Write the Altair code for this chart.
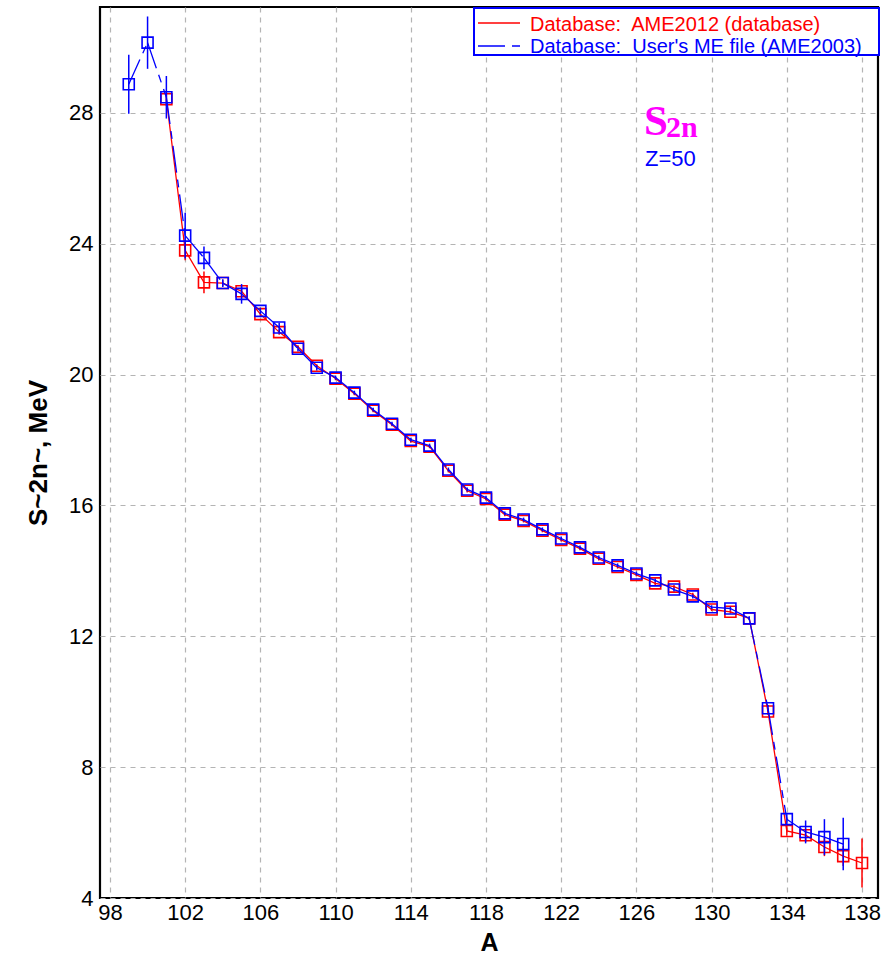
import altair as alt
import pandas as pd

# Two-neutron separation energies for tin (Z = 50), two mass evaluations
A_user = [99, 100, 101, 102, 103, 104, 105, 106, 107, 108, 109, 110, 111, 112,
          113, 114, 115, 116, 117, 118, 119, 120, 121, 122, 123, 124, 125, 126,
          127, 128, 129, 130, 131, 132, 133, 134, 135, 136, 137]
S_user = [28.88, 30.15, 28.48, 24.25, 23.57, 22.80, 22.47, 21.95, 21.44, 20.79,
          20.21, 19.91, 19.45, 18.93, 18.50, 18.01, 17.83, 17.10, 16.49, 16.24,
          15.76, 15.57, 15.27, 14.99, 14.72, 14.41, 14.17, 13.92, 13.71, 13.43,
          13.22, 12.89, 12.85, 12.55, 9.80, 6.41, 6.02, 5.86, 5.65]
E_user = [0.90, 0.80, 0.65, 0.70, 0.35, 0.12, 0.30, 0.10, 0.15, 0.08,
          0.08, 0.06, 0.06, 0.06, 0.06, 0.06, 0.06, 0.06, 0.06, 0.06,
          0.06, 0.06, 0.06, 0.06, 0.06, 0.06, 0.06, 0.06, 0.06, 0.06,
          0.06, 0.06, 0.06, 0.06, 0.10, 0.15, 0.35, 0.55, 0.80]

A_db = [101, 102, 103, 104, 105, 106, 107, 108, 109, 110, 111, 112, 113, 114,
        115, 116, 117, 118, 119, 120, 121, 122, 123, 124, 125, 126, 127, 128,
        129, 130, 131, 132, 133, 134, 135, 136, 137, 138]
S_db = [28.42, 23.80, 22.82, 22.80, 22.55, 21.85, 21.30, 20.85, 20.27, 19.88,
        19.42, 18.90, 18.47, 17.97, 17.80, 17.06, 16.45, 16.20, 15.72, 15.53,
        15.23, 14.95, 14.68, 14.37, 14.12, 13.88, 13.62, 13.52, 13.28, 12.82,
        12.75, 12.55, 9.70, 6.05, 5.92, 5.56, 5.28, 5.07]
E_db = [0.20, 0.30, 0.33, 0.10, 0.15, 0.06, 0.08, 0.05, 0.05, 0.05,
        0.05, 0.05, 0.05, 0.05, 0.05, 0.05, 0.05, 0.05, 0.05, 0.05,
        0.05, 0.05, 0.05, 0.05, 0.05, 0.05, 0.05, 0.05, 0.05, 0.05,
        0.05, 0.05, 0.10, 0.15, 0.20, 0.28, 0.30, 0.75]

x_ticks = [98, 102, 106, 110, 114, 118, 122, 126, 130, 134, 138]
y_ticks = [4, 8, 12, 16, 20, 24, 28]

# a no-break space keeps the double gap after the colon
legend_db = "Database:\u00a0 AME2012 (database)"
legend_user = "Database:\u00a0 User's ME file (AME2003)"

RED = "#ff0000"
BLUE = "#0000ff"
SANS = "Liberation Sans"

W, H = 778, 891

db = pd.DataFrame({"A": A_db, "S": S_db, "E": E_db})
db["lo"] = db["S"] - db["E"]
db["hi"] = db["S"] + db["E"]

user = pd.DataFrame({"A": A_user, "S": S_user, "E": E_user})
user["lo"] = user["S"] - user["E"]
user["hi"] = user["S"] + user["E"]

# each connecting piece of the dashed series is its own segment, so the dash
# pattern restarts at every point
seg = pd.DataFrame({"A": A_user[:-1], "S": S_user[:-1],
                    "A2": A_user[1:], "S2": S_user[1:]})

x_scale = alt.Scale(domain=[97.47, 138.85], nice=False, zero=False)
y_scale = alt.Scale(domain=[4, 31.24], nice=False, zero=False)

x_axis = alt.Axis(values=x_ticks, title="A", grid=True, ticks=False, domain=False,
                  labelFontSize=22, labelFont=SANS, labelColor="black",
                  labelPadding=4, labelFlush=False,
                  titleFont=SANS, titleFontSize=25, titleFontWeight="bold",
                  titleColor="black", titleX=W / 2, titleY=52,
                  titleBaseline="alphabetic", titleAlign="center")
y_axis = alt.Axis(values=y_ticks, title="S~2n~, MeV", grid=True, ticks=False,
                  domain=False, labelFontSize=22, labelFont=SANS,
                  labelColor="black", labelPadding=7, labelFlush=False,
                  titleFont=SANS, titleFontSize=26, titleFontWeight="bold",
                  titleColor="black", titleX=-62, titleY=H / 2,
                  titleAngle=270, titleBaseline="middle", titleAlign="center")

X = alt.X("A:Q", scale=x_scale, axis=x_axis)
Y = alt.Y("S:Q", scale=y_scale, axis=y_axis)

red_line = alt.Chart(db).mark_line(color=RED, strokeWidth=1.3).encode(x=X, y=Y)
red_err = alt.Chart(db).mark_rule(color=RED, strokeWidth=1.5).encode(
    x=X, y=alt.Y("lo:Q", scale=y_scale, axis=y_axis), y2="hi:Q")
red_pts = alt.Chart(db).mark_point(shape="square", filled=False, size=121,
                                   color=RED, strokeWidth=1.6, opacity=1).encode(x=X, y=Y)

blue_seg = alt.Chart(seg).mark_rule(color=BLUE, strokeWidth=1.3,
                                    strokeDash=[27, 7, 8, 7]).encode(
    x=X, y=Y, x2="A2:Q", y2="S2:Q")
blue_err = alt.Chart(user).mark_rule(color=BLUE, strokeWidth=1.5).encode(
    x=X, y=alt.Y("lo:Q", scale=y_scale, axis=y_axis), y2="hi:Q")
blue_pts = alt.Chart(user).mark_point(shape="square", filled=False, size=121,
                                      color=BLUE, strokeWidth=1.6, opacity=1).encode(x=X, y=Y)

# legend box in the top-right corner
anchor = alt.Chart(pd.DataFrame({"k": [0]}))
leg_box = anchor.mark_rect(fill="white", stroke=BLUE, strokeWidth=2).encode(
    x=alt.value(374), x2=alt.value(779), y=alt.value(1), y2=alt.value(48))
leg_red = anchor.mark_rule(color=RED, strokeWidth=1.5).encode(
    x=alt.value(378), x2=alt.value(420), y=alt.value(16))
leg_blue = anchor.mark_rule(color=BLUE, strokeWidth=1.5,
                            strokeDash=[27, 7, 8, 7]).encode(
    x=alt.value(378), x2=alt.value(420), y=alt.value(39))
leg_txt_red = anchor.mark_text(text=legend_db, color=RED, font=SANS, fontSize=20,
                               align="left", baseline="alphabetic").encode(
    x=alt.value(430), y=alt.value(24))
leg_txt_blue = anchor.mark_text(text=legend_user, color=BLUE, font=SANS, fontSize=20,
                                align="left", baseline="alphabetic").encode(
    x=alt.value(430), y=alt.value(46))

# quantity and element labels
lab_s = anchor.mark_text(text="S", color="#ff00ff", font="Liberation Serif",
                         fontWeight="bold", fontSize=43, align="left",
                         baseline="alphabetic").encode(x=alt.value(544), y=alt.value(128))
lab_2n = anchor.mark_text(text="2n", color="#ff00ff", font="Liberation Serif",
                          fontWeight="bold", fontSize=30, align="left",
                          baseline="alphabetic").encode(x=alt.value(566), y=alt.value(130))
lab_z = anchor.mark_text(text="Z=50", color=BLUE, font=SANS, fontSize=22,
                         align="left", baseline="alphabetic").encode(
    x=alt.value(545), y=alt.value(159))

chart = alt.layer(
    red_line, red_err, red_pts, blue_seg, blue_err, blue_pts,
    leg_box, leg_red, leg_blue, leg_txt_red, leg_txt_blue,
    lab_s, lab_2n, lab_z,
).properties(
    width=W, height=H,
    autosize=alt.AutoSizeParams(type="none"),
    padding={"left": 100, "top": 7, "right": 7, "bottom": 60},
    background="white",
).configure_view(
    stroke="black", strokeWidth=2.2,
).configure_axis(
    gridColor="#b4b4b4", gridDash=[5, 5], gridWidth=1.2, gridOpacity=1,
)

chart.save("out.html", embed_options={"renderer": "svg", "actions": False})
